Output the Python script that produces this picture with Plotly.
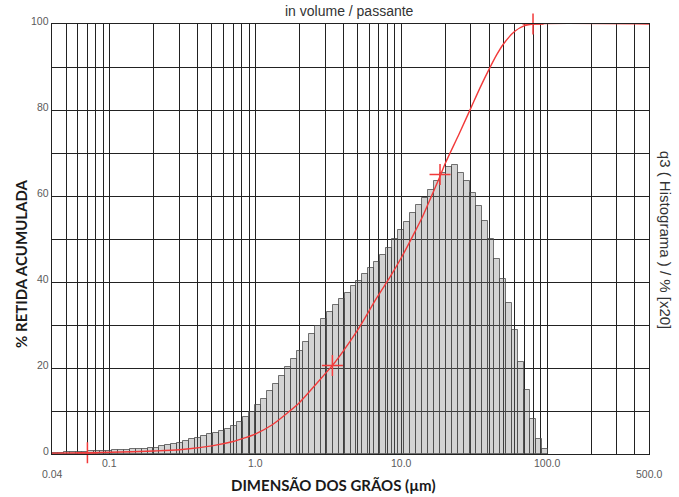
import numpy as np
import plotly.graph_objects as go

# Instrument class grid: 100 logarithmic classes between 0.04 and 500 µm
CLASS_MIN_UM = 0.04
CLASS_MAX_UM = 500.0
N_CLASSES = 100

# q3 histogram (x20) per class, starting at the first class (0.04 µm)
q3_x20 = [
    0.3, 0.3, 0.4, 0.4,
    0.5, 0.5, 0.6, 0.7, 0.8,
    0.8, 0.9, 1.0, 1.0,
    1.1, 1.2, 1.2,
    1.3, 1.5, 1.8,
    2.0, 2.3,
    2.6, 3.0, 3.4, 3.8, 4.2, 4.6, 5.0, 5.3, 5.8,
    6.6, 7.5, 8.6, 9.8, 11.3, 12.9, 14.6, 16.2, 18.2, 20.2,
    22.0, 24.0, 26.0, 28.0, 29.8, 31.4, 33.0, 34.6, 36.0, 37.5,
    39.0, 40.3, 41.8, 43.2, 44.6, 46.3, 48.0, 50.0, 52.0, 54.0,
    56.0, 57.8, 59.5, 61.5, 63.4, 65.3, 66.8, 67.1, 65.4, 63.4,
    60.7, 57.7, 54.1, 50.0, 45.3, 40.7, 35.2, 28.9, 21.5, 14.9,
    8.1, 3.6, 1.1,
]

# Cumulative passing curve (µm, %)
cum_size_um = [0.04, 0.07, 0.1, 0.2, 0.3, 0.5, 0.7, 0.85, 1.0, 1.3, 1.7, 2.0,
               2.6, 3.36, 4.0, 5.0, 6.8, 8.4, 10.0, 12.0, 14.0, 16.0, 18.4,
               20.0, 25.0, 30.0, 35.0, 40.0, 45.0, 50.0, 60.0, 70.0, 80.0, 500.0]
cum_passing = [0.2, 0.3, 0.4, 0.7, 1.0, 1.9, 2.9, 3.8, 4.7, 6.8, 9.9, 12.0,
               16.3, 20.6, 24.0, 28.8, 36.4, 41.3, 45.7, 50.8, 55.3, 59.8, 64.6,
               67.6, 74.6, 80.5, 85.5, 89.5, 92.8, 95.3, 98.3, 99.6, 100.0, 100.0]

# Marked points on the cumulative curve
mark_size_um = [0.07, 3.36, 18.4, 80.0]
mark_passing = [0.3, 20.6, 65.0, 100.0]

# Axis grid and labels
x_grid = ([0.04, 0.05, 0.06, 0.07, 0.08, 0.09] +
          [round(0.1 * i, 2) for i in range(1, 10)] +
          [float(i) for i in range(1, 10)] +
          [10.0 * i for i in range(1, 10)] +
          [100.0, 200.0, 300.0, 400.0, 500.0])
x_labels = ["0.04", "0.1", "1.0", "10.0", "100.0", "500.0"]
x_label_vals = [0.04, 0.1, 1.0, 10.0, 100.0, 500.0]
x_label_low = [True, False, False, False, False, True]
y_grid = list(range(0, 101, 10))
y_labels = [0, 20, 40, 60, 80, 100]

# Histogram bars sit on a linear axis expressed in log10(µm)
log_lo, log_hi = np.log10(CLASS_MIN_UM), np.log10(CLASS_MAX_UM)
step = (log_hi - log_lo) / N_CLASSES
idx = np.arange(len(q3_x20))
bar_pos = log_lo + (idx + 0.5) * step

RED = "#f23a3a"

fig = go.Figure()

fig.add_trace(go.Bar(
    x=bar_pos, y=q3_x20, width=step, xaxis="x", yaxis="y",
    marker=dict(color="rgba(120,120,120,0.33)",
                line=dict(color="rgba(70,70,70,0.75)", width=1)),
    hoverinfo="skip", showlegend=False,
))

# The cumulative curve uses the logarithmic overlay axis, drawn above the bars
fig.add_trace(go.Scatter(
    x=cum_size_um, y=cum_passing, mode="lines", xaxis="x2", yaxis="y",
    line=dict(color=RED, width=1.4, shape="spline", smoothing=0.8),
    showlegend=False, hoverinfo="skip",
))

fig.add_trace(go.Scatter(
    x=mark_size_um, y=mark_passing, mode="markers", xaxis="x2", yaxis="y",
    marker=dict(symbol="cross-thin", size=15, color=RED,
                line=dict(color=RED, width=1.5)),
    cliponaxis=False, showlegend=False, hoverinfo="skip",
))

label_font = dict(family="Liberation Sans, Arial", size=10.5, color="#5a5a5a")
annotations = []
for lab, v, low in zip(x_labels, x_label_vals, x_label_low):
    annotations.append(dict(
        x=np.log10(v), xref="x", y=0, yref="paper",
        text=lab, showarrow=False, font=label_font,
        xanchor="center", yanchor="middle", yshift=-20 if low else -9,
    ))
for v in y_labels:
    annotations.append(dict(
        x=0, xref="paper", y=v, yref="y", text=str(v), showarrow=False,
        font=label_font, xanchor="right", yanchor="middle", xshift=-1, yshift=3,
    ))

annotations += [
    dict(x=0.499, xref="paper", y=1, yref="paper", yshift=13,
         text="in volume / passante", showarrow=False,
         font=dict(family="Liberation Sans, Arial", size=14, color="#333333"),
         xanchor="center", yanchor="middle"),
    dict(x=0.4707, xref="paper", y=0, yref="paper", yshift=-31,
         text="DIMENSÃO DOS GRÃOS (µm)", showarrow=False,
         font=dict(family="Lato", size=15, color="#1a1a1a", weight="bold"),
         xanchor="center", yanchor="middle"),
    dict(x=0, xref="paper", xshift=-31, y=0.442, yref="paper",
         text="% RETIDA ACUMULADA", showarrow=False, textangle=-90,
         font=dict(family="Lato", size=15, color="#1a1a1a", weight="bold"),
         xanchor="center", yanchor="middle"),
    dict(x=1, xref="paper", xshift=16, y=0.498, yref="paper",
         text="q3 ( Histograma ) / % [x20]", showarrow=False, textangle=90,
         font=dict(family="Liberation Sans, Arial", size=15, color="#333333"),
         xanchor="center", yanchor="middle"),
]

GRID = "#222222"

fig.update_layout(
    width=679, height=497,
    margin=dict(l=52, r=30, t=24, b=43),
    paper_bgcolor="white", plot_bgcolor="white",
    bargap=0,
    xaxis=dict(
        range=[log_lo, log_hi], showgrid=False, zeroline=False,
        showticklabels=False, ticks="", showline=False,
    ),
    xaxis2=dict(
        type="log", range=[log_lo, log_hi], overlaying="x", anchor="y",
        tickvals=x_grid, showticklabels=False, ticks="",
        showgrid=True, gridcolor=GRID, gridwidth=1.1,
        showline=True, linecolor=GRID, linewidth=1.1, mirror=True,
        zeroline=False,
    ),
    yaxis=dict(
        range=[0, 100], tickvals=y_grid, showticklabels=False, ticks="",
        showgrid=True, gridcolor=GRID, gridwidth=1.1,
        showline=True, linecolor=GRID, linewidth=1.1, mirror=True,
        zeroline=False,
    ),
    annotations=annotations,
)

fig.write_html("out.html")
